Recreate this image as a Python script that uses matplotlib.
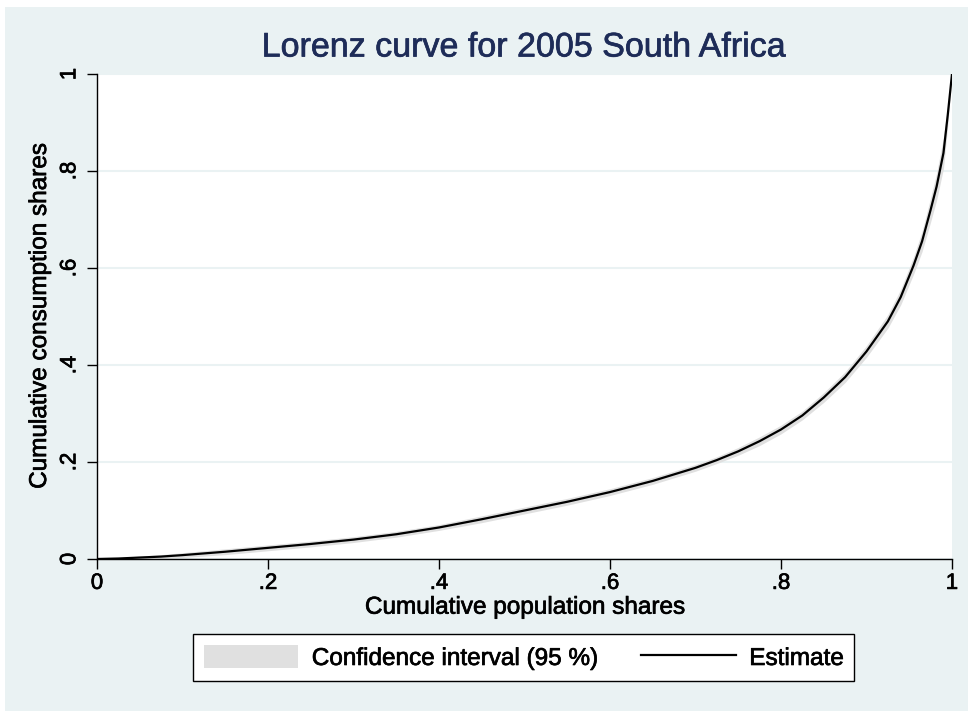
import matplotlib
matplotlib.use("Agg")
import matplotlib.pyplot as plt
from matplotlib.patches import Rectangle
import matplotlib.patheffects as pe

# Lorenz curve values
pop_share = [0, 0.025, 0.05, 0.075, 0.10, 0.15, 0.20, 0.25, 0.30, 0.35, 0.40,
             0.45, 0.50, 0.55, 0.60, 0.65, 0.70, 0.725, 0.75, 0.775, 0.80,
             0.825, 0.85, 0.875, 0.90, 0.925, 0.94, 0.955, 0.965, 0.975,
             0.982, 0.99, 0.995, 1.0]
cons_share = [0, 0.001, 0.003, 0.005, 0.008, 0.015, 0.023, 0.031, 0.040,
              0.051, 0.065, 0.082, 0.100, 0.118, 0.138, 0.161, 0.188, 0.204,
              0.222, 0.243, 0.267, 0.296, 0.333, 0.375, 0.428, 0.490, 0.540,
              0.605, 0.655, 0.720, 0.768, 0.837, 0.915, 1.0]
ci_low = [0, -0.001, 0.000, 0.001, 0.003, 0.009, 0.017, 0.025, 0.034, 0.045,
          0.059, 0.075, 0.093, 0.111, 0.131, 0.154, 0.181, 0.197, 0.214,
          0.234, 0.258, 0.287, 0.323, 0.364, 0.416, 0.476, 0.524, 0.587,
          0.634, 0.695, 0.740, 0.805, 0.893, 1.0]
ci_high = [0, 0.003, 0.006, 0.009, 0.013, 0.021, 0.029, 0.037, 0.046, 0.057,
           0.071, 0.089, 0.107, 0.125, 0.145, 0.168, 0.195, 0.211, 0.230,
           0.252, 0.276, 0.305, 0.343, 0.386, 0.440, 0.504, 0.556, 0.623,
           0.676, 0.745, 0.796, 0.869, 0.937, 1.0]

ticks = [0, 0.2, 0.4, 0.6, 0.8, 1.0]
tick_labels = ["0", ".2", ".4", ".6", ".8", "1"]

plt.rcParams['font.family'] = ['Liberation Sans', 'DejaVu Sans']

bg = '#eaf2f3'
fig = plt.figure(figsize=(9.68, 7.11), dpi=100, facecolor='white')
# graph region, with a thin white margin at top and left
fig.patches.append(Rectangle((5 / 968, 0), 1, 1 - 7 / 711, transform=fig.transFigure,
                             facecolor=bg, edgecolor='none', zorder=-10))

ax = fig.add_axes([97 / 968, 152 / 711, 855 / 968, 485 / 711])
ax.set_facecolor('white')

ax.fill_between(pop_share, ci_low, ci_high, color='#e0e0e0', lw=0,
                label='Confidence interval (95 %)', zorder=2)
ax.plot(pop_share, cons_share, color='black', lw=1.6, label='Estimate', zorder=3)

ax.set_xlim(0, 1)
ax.set_ylim(0, 1)

# slightly heavier text, like the original renderer
bold = [pe.withStroke(linewidth=0.5, foreground='black')]

ax.set_xticks(ticks)
ax.set_xticklabels(tick_labels)
ax.set_yticks(ticks)
ax.set_yticklabels(tick_labels, rotation=90, va='center')
ax.tick_params(axis='both', direction='out', length=7, width=1, labelsize=16,
               color='black', labelcolor='black')
ax.tick_params(axis='x', pad=3)
ax.tick_params(axis='y', pad=5)
for lab in ax.get_xticklabels() + ax.get_yticklabels():
    lab.set_path_effects(bold)

for side in ['top', 'right']:
    ax.spines[side].set_visible(False)
for side in ['left', 'bottom']:
    ax.spines[side].set_color('black')
    ax.spines[side].set_linewidth(1)

ax.yaxis.grid(True, color=bg, lw=1.5, zorder=0)
ax.set_axisbelow(True)

ax.set_xlabel('Cumulative population shares', fontsize=17.5, labelpad=2,
              path_effects=bold)
ax.set_ylabel('Cumulative consumption shares', fontsize=17.5, labelpad=6,
              path_effects=bold)

title_col = '#1e2c58'
fig.text(524 / 968, 1 - 48 / 711, 'Lorenz curve for 2005 South Africa',
         ha='center', va='center', fontsize=24.5, color=title_col,
         path_effects=[pe.withStroke(linewidth=0.5, foreground=title_col)])

leg = fig.legend(loc='center', bbox_to_anchor=(523.5 / 968, 1 - 657.5 / 711), ncol=2,
                 fontsize=17.5, frameon=True, fancybox=False, edgecolor='black',
                 handlelength=3.9, handleheight=1.1, columnspacing=1.8,
                 handletextpad=0.55, borderpad=0.45)
leg.get_frame().set_linewidth(1)
leg.get_frame().set_facecolor('white')
leg.get_frame().set_alpha(1)
for t in leg.get_texts():
    t.set_path_effects(bold)

fig.savefig('out.png', dpi=100, facecolor=fig.get_facecolor())
